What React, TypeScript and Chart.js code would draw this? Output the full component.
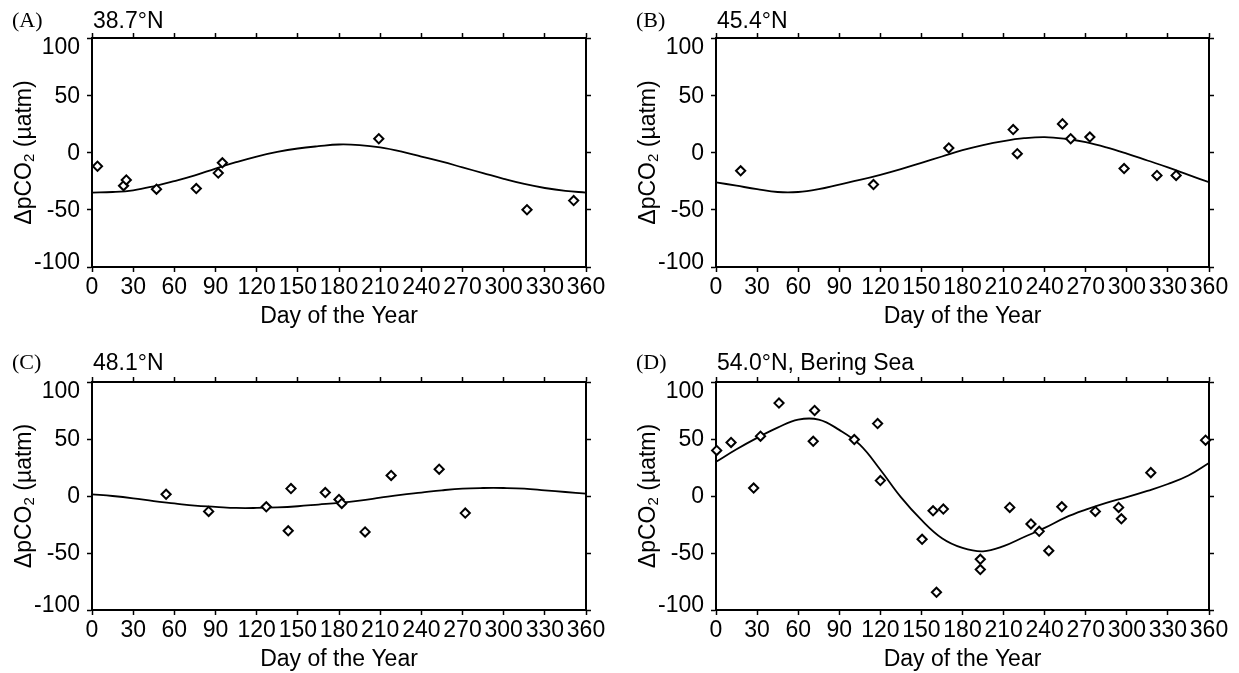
import React, { useEffect, useRef } from "react";
import { Chart, registerables } from "chart.js";

Chart.register(...registerables);

// ---------- data ----------
const xTickValues = [0, 30, 60, 90, 120, 150, 180, 210, 240, 270, 300, 330, 360];
const yTickValues = [-100, -50, 0, 50, 100];

const curveDays = [0, 15, 30, 45, 60, 75, 90, 105, 120, 135, 150, 165, 180, 195, 210, 225, 240, 255, 270, 285, 300, 315, 330, 345, 360];

const curveA = [-35, -34.5, -33, -29.5, -25, -20, -14, -8.5, -3.5, 0.5, 3.5, 5.5, 7, 6.5, 4.5, 1, -3.5, -8, -13, -18, -23, -27.5, -31, -33.5, -35];
const curveB = [-26, -29, -32, -34.5, -34.5, -32, -28, -24, -19.5, -14.5, -9, -3.5, 2, 6.5, 10, 12.5, 13.5, 12, 9, 4.5, -1, -7, -13, -19.5, -26];
const curveC = [1.5, 0, -2, -4.5, -6.5, -8.5, -9.5, -10.5, -10.5, -10, -9, -7.5, -6, -4, -1.5, 1, 3, 5, 6.5, 7, 7, 6.5, 5, 3.5, 2];
const curveD = [30, 41, 51, 60, 67, 67, 58, 45, 23, -1, -21, -37, -45.5, -48.5, -44, -36, -28, -19, -12, -6, -1, 4.5, 10.5, 18, 29];

const daysA = [4, 23, 25, 47, 76, 92, 95, 209, 317, 351];
const valsA = [-12, -29, -24, -32, -31.5, -18, -9, 12, -50, -42];

const daysB = [18, 115, 170, 217, 220, 253, 259, 273, 298, 322, 336];
const valsB = [-16, -28, 4, 20, -1, 25, 12, 13.5, -14, -20, -20];

const daysC = [54, 85, 127, 143, 145, 170, 180, 182, 199, 218, 253, 272];
const valsC = [1.5, -13.5, -9.5, -30.5, 6.5, 3, -3, -6.5, -31.5, 18, 23.5, -15];

const daysD = [0.5, 11, 27.5, 32.5, 46, 72, 71, 101, 118, 120, 150.5, 158.5, 166, 161, 193, 193, 214.5, 230, 236, 243, 252.5, 277, 294, 296, 317.5, 357.5];
const valsD = [40, 47, 7, 52.5, 81.5, 75, 48, 49.5, 63.5, 13.5, -38, -13, -11.5, -84.5, -55.5, -64.5, -10, -24.5, -31, -48, -9.5, -13.5, -10, -20, 20.5, 49];

const panelLetters = ["(A)", "(B)", "(C)", "(D)"];
const panelTitles = ["38.7°N", "45.4°N", "48.1°N", "54.0°N, Bering Sea"];
const xAxisTitle = "Day of the Year";
const yAxisTitleMain = "ΔpCO";
const yAxisTitleSub = "2";
const yAxisTitleUnit = " (µatm)";

// ---------- styling ----------
const SANS = '"Liberation Sans", Arial, Helvetica, sans-serif';
const SERIF = '"Liberation Serif", "Times New Roman", serif';
const FONT_SIZE = 23;

type Margins = { l: number; t: number; r: number; b: number };

interface PanelProps {
  left: number;
  top: number;
  width: number;
  height: number;
  m: Margins;
  curve: number[];
  days: number[];
  vals: number[];
  letter: string;
  title: string;
  titleGap: number;
}

function Panel(props: PanelProps) {
  const ref = useRef<HTMLCanvasElement | null>(null);

  useEffect(() => {
    const canvas = ref.current;
    if (!canvas) return;
    const { m } = props;

    const gridOpts = {
      display: true,
      drawOnChartArea: false,
      drawTicks: true,
      tickLength: 5,
      tickWidth: 1.5,
      tickColor: "#000",
    };
    const borderOpts = { display: true, color: "#000", width: 2 };
    const tickFont = { family: SANS, size: FONT_SIZE, lineHeight: 1.2 };

    const setX = (s: any) => {
      s.ticks = xTickValues.map((v) => ({ value: v }));
    };
    const setY = (s: any) => {
      s.ticks = yTickValues.map((v) => ({ value: v }));
    };

    const labelPlugin = {
      id: "panelLabels",
      afterDraw(chart: any) {
        const { ctx, chartArea } = chart;
        ctx.save();
        ctx.fillStyle = "#000";

        // y tick labels (end labels nudged inside, as in the original)
        const yScale = chart.scales.y;
        ctx.font = `${FONT_SIZE}px ${SANS}`;
        ctx.textAlign = "right";
        ctx.textBaseline = "middle";
        yTickValues.forEach((v) => {
          let py = yScale.getPixelForValue(v);
          if (v === yScale.max) py += 9;
          if (v === yScale.min) py -= 5;
          ctx.fillText(String(v), chartArea.left - 12, py + 1);
        });

        ctx.textAlign = "left";
        ctx.textBaseline = "alphabetic";
        const base = chartArea.top - props.titleGap;
        ctx.font = `22px ${SERIF}`;
        ctx.fillText(props.letter, chartArea.left - 80, base - 1);
        ctx.font = `${FONT_SIZE}px ${SANS}`;
        ctx.fillText(props.title, chartArea.left + 1, base);

        // rotated y-axis title with subscript
        const cy = (chartArea.top + chartArea.bottom) / 2;
        ctx.translate(chartArea.left - 67, cy);
        ctx.rotate(-Math.PI / 2);
        ctx.textBaseline = "middle";
        ctx.font = `${FONT_SIZE}px ${SANS}`;
        const w1 = ctx.measureText(yAxisTitleMain).width;
        const w3 = ctx.measureText(yAxisTitleUnit).width;
        ctx.font = `15px ${SANS}`;
        const w2 = ctx.measureText(yAxisTitleSub).width;
        const total = w1 + w2 + w3;
        const x0 = -total / 2;
        ctx.font = `${FONT_SIZE}px ${SANS}`;
        ctx.fillText(yAxisTitleMain, x0, 0);
        ctx.font = `15px ${SANS}`;
        ctx.fillText(yAxisTitleSub, x0 + w1, 5);
        ctx.font = `${FONT_SIZE}px ${SANS}`;
        ctx.fillText(yAxisTitleUnit, x0 + w1 + w2, 0);
        ctx.restore();
      },
    };

    const chart = new Chart(canvas, {
      type: "line",
      data: {
        datasets: [
          {
            label: "obs",
            data: props.days.map((d, i) => ({ x: d, y: props.vals[i] })),
            showLine: false,
            pointStyle: "rectRot",
            pointRadius: 4.6,
            pointBorderWidth: 2,
            pointBorderColor: "#000",
            pointBackgroundColor: "#fff",
            borderColor: "#000",
            backgroundColor: "#fff",
            clip: false as any,
          },
          {
            label: "fit",
            data: curveDays.map((d, i) => ({ x: d, y: props.curve[i] })),
            borderColor: "#000",
            borderWidth: 1.8,
            pointRadius: 0,
            fill: false,
            tension: 0.4,
          },
        ],
      },
      options: {
        animation: false,
        responsive: false,
        maintainAspectRatio: false,
        events: [],
        layout: { padding: 0 },
        plugins: {
          legend: { display: false },
          tooltip: { enabled: false },
          title: { display: false },
        },
        scales: {
          x: {
            type: "linear",
            position: "bottom",
            min: 0,
            max: 360,
            afterBuildTicks: setX,
            afterFit: (s: any) => {
              s.height = m.b;
            },
            ticks: {
              color: "#000",
              font: tickFont,
              padding: 2,
              maxRotation: 0,
              minRotation: 0,
              autoSkip: false,
            },
            grid: gridOpts,
            border: borderOpts,
            title: {
              display: true,
              text: xAxisTitle,
              color: "#000",
              font: { family: SANS, size: FONT_SIZE, lineHeight: 1.2 },
              padding: { top: 0, bottom: 0 },
            },
          },
          x2: {
            type: "linear",
            position: "top",
            min: 0,
            max: 360,
            afterBuildTicks: setX,
            afterFit: (s: any) => {
              s.height = m.t;
            },
            ticks: { display: false },
            grid: gridOpts,
            border: borderOpts,
          },
          y: {
            type: "linear",
            position: "left",
            min: -100,
            max: 100,
            afterBuildTicks: setY,
            afterFit: (s: any) => {
              s.width = m.l;
            },
            ticks: { display: false },
            grid: gridOpts,
            border: borderOpts,
          },
          y2: {
            type: "linear",
            position: "right",
            min: -100,
            max: 100,
            afterBuildTicks: setY,
            afterFit: (s: any) => {
              s.width = m.r;
            },
            ticks: { display: false },
            grid: gridOpts,
            border: borderOpts,
          },
        },
      } as any,
      plugins: [labelPlugin],
    });

    return () => {
      chart.destroy();
    };
  }, []);

  return (
    <canvas
      ref={ref}
      width={props.width}
      height={props.height}
      style={{
        position: "absolute",
        left: props.left,
        top: props.top,
        width: props.width,
        height: props.height,
      }}
    />
  );
}

export default function App() {
  return (
    <div
      style={{
        position: "absolute",
        left: 0,
        top: 0,
        width: 1239,
        height: 673,
        background: "#fff",
        overflow: "hidden",
      }}
    >
      <Panel
        left={0}
        top={0}
        width={620}
        height={330}
        m={{ l: 92, t: 38, r: 34, b: 63 }}
        curve={curveA}
        days={daysA}
        vals={valsA}
        letter={panelLetters[0]}
        title={panelTitles[0]}
        titleGap={10}
      />
      <Panel
        left={620}
        top={0}
        width={619}
        height={330}
        m={{ l: 96, t: 38, r: 30, b: 63 }}
        curve={curveB}
        days={daysB}
        vals={valsB}
        letter={panelLetters[1]}
        title={panelTitles[1]}
        titleGap={10}
      />
      <Panel
        left={0}
        top={330}
        width={620}
        height={343}
        m={{ l: 92, t: 52, r: 34, b: 63 }}
        curve={curveC}
        days={daysC}
        vals={valsC}
        letter={panelLetters[2]}
        title={panelTitles[2]}
        titleGap={12}
      />
      <Panel
        left={620}
        top={330}
        width={619}
        height={343}
        m={{ l: 96, t: 52, r: 30, b: 63 }}
        curve={curveD}
        days={daysD}
        vals={valsD}
        letter={panelLetters[3]}
        title={panelTitles[3]}
        titleGap={12}
      />
    </div>
  );
}
